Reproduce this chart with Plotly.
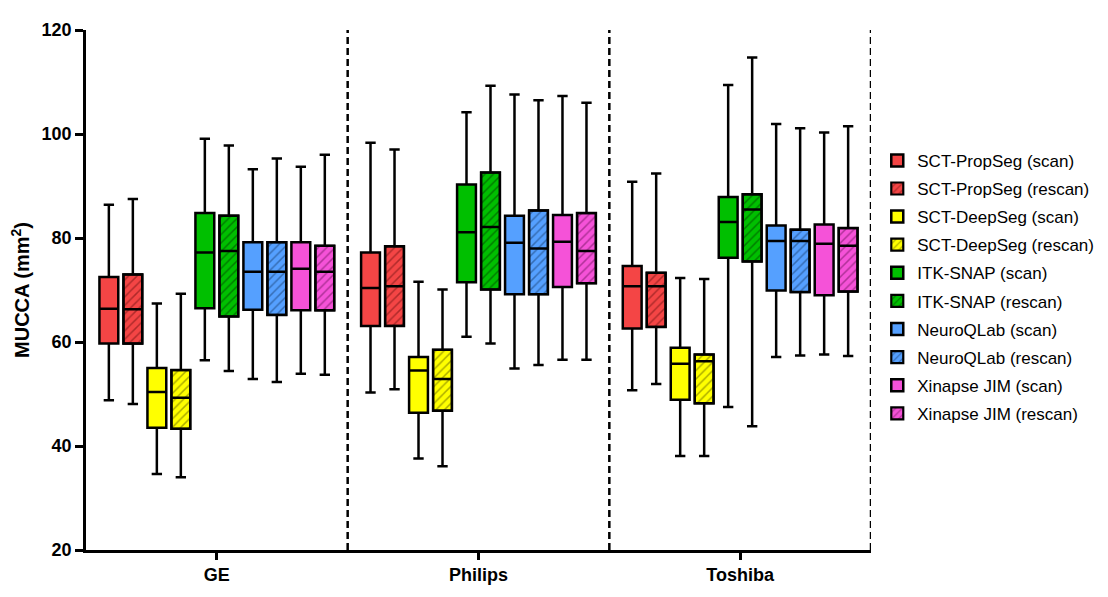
import plotly.graph_objects as go

# scanner groups on the x axis
scanners = ['GE', 'Philips', 'Toshiba']

# series names, in legend order
series = [
    'SCT-PropSeg (scan)', 'SCT-PropSeg (rescan)',
    'SCT-DeepSeg (scan)', 'SCT-DeepSeg (rescan)',
    'ITK-SNAP (scan)', 'ITK-SNAP (rescan)',
    'NeuroQLab (scan)', 'NeuroQLab (rescan)',
    'Xinapse JIM (scan)', 'Xinapse JIM (rescan)',
]

# box statistics per series, one value per scanner (GE, Philips, Toshiba)
mins = [
    [48.8, 50.3, 50.7], [48.1, 50.9, 51.9],
    [34.6, 37.6, 38.1], [34.0, 36.1, 38.1],
    [56.5, 61.0, 47.5], [54.4, 59.7, 43.8],
    [52.9, 54.9, 57.1], [52.3, 55.6, 57.4],
    [53.9, 56.6, 57.6], [53.7, 56.6, 57.3],
]
q1s = [
    [59.7, 63.1, 62.6], [59.7, 63.1, 62.9],
    [43.5, 46.4, 48.9], [43.3, 46.8, 48.2],
    [66.5, 71.5, 76.2], [64.9, 70.1, 75.5],
    [66.2, 69.2, 69.9], [65.2, 69.2, 69.6],
    [66.1, 70.6, 69.0], [66.1, 71.3, 69.7],
]
medians = [
    [66.4, 70.4, 70.7], [66.3, 70.7, 70.7],
    [50.4, 54.5, 55.8], [49.3, 52.9, 56.3],
    [77.2, 81.1, 83.1], [77.5, 82.1, 85.5],
    [73.5, 79.1, 79.4], [73.5, 78.0, 79.4],
    [74.1, 79.3, 78.9], [73.5, 77.5, 78.5],
]
q3s = [
    [72.5, 77.2, 74.6], [73.0, 78.4, 73.3],
    [55.0, 57.1, 58.9], [54.6, 58.5, 57.6],
    [84.8, 90.3, 87.9], [84.3, 92.6, 88.4],
    [79.2, 84.3, 82.4], [79.2, 85.3, 81.6],
    [79.2, 84.4, 82.6], [78.5, 84.8, 81.9],
]
maxs = [
    [86.4, 98.3, 90.8], [87.5, 97.0, 92.4],
    [67.4, 71.6, 72.3], [69.3, 70.1, 72.1],
    [99.1, 104.2, 109.4], [97.8, 109.3, 114.7],
    [93.2, 107.6, 101.9], [95.3, 106.5, 101.1],
    [93.7, 107.3, 100.3], [96.0, 106.0, 101.5],
]

colors = ['#F44545', '#FFFF00', '#00BF00', '#55A0FF', '#F552D8']
hatch_colors = ['#6A1010', '#5A5A00', '#003C00', '#163A6A', '#6A1058']

FONT = 'Liberation Sans, Arial, sans-serif'
step = 0.0917      # distance between neighbouring boxes (x units)
bw = 0.072         # box width (x units)

fig = go.Figure()

for i, name in enumerate(series):
    k = i // 2
    rescan = i % 2 == 1
    off = (i - 4.5) * step
    xs = [j + off for j in range(len(scanners))]
    if rescan:
        # hatched fill drawn as bars underneath the box outline
        fig.add_trace(go.Bar(
            x=xs,
            base=q1s[i],
            y=[b - a for a, b in zip(q1s[i], q3s[i])],
            width=bw,
            name=name,
            legendgroup=name,
            marker=dict(
                color=colors[k],
                line=dict(color='black', width=2.2),
                pattern=dict(shape='/', fgcolor=hatch_colors[k],
                             size=6, solidity=0.25),
            ),
            hoverinfo='skip',
        ))
    fig.add_trace(go.Box(
        x=xs,
        q1=q1s[i],
        median=medians[i],
        q3=q3s[i],
        lowerfence=mins[i],
        upperfence=maxs[i],
        width=bw,
        whiskerwidth=0.55,
        boxpoints=False,
        name=name,
        legendgroup=name,
        showlegend=not rescan,
        fillcolor='rgba(0,0,0,0)' if rescan else colors[k],
        line=dict(color='black', width=2.5),
    ))

# dashed separators between scanners and at the right edge
for j in range(len(scanners)):
    fig.add_shape(type='line', xref='x', yref='paper',
                  x0=j + 0.5, x1=j + 0.5, y0=0, y1=1,
                  line=dict(color='black', width=2.5, dash='7px,4px'))

fig.update_layout(
    width=1108,
    height=597,
    plot_bgcolor='white',
    paper_bgcolor='white',
    margin=dict(l=75, r=245, t=17, b=55),
    barmode='overlay',
    boxmode='overlay',
    font=dict(family=FONT, color='black'),
    legend=dict(
        x=1.008, y=0.783, xanchor='left', yanchor='top',
        font=dict(family=FONT, size=17, color='black'),
        tracegroupgap=3,
        bgcolor='rgba(0,0,0,0)',
    ),
    xaxis=dict(
        range=[-0.5, 2.5],
        tickvals=list(range(len(scanners))),
        ticktext=scanners,
        ticks='outside', ticklen=7, tickwidth=2.5, tickcolor='black',
        showline=True, linecolor='black', linewidth=2.5,
        showgrid=False, zeroline=False,
        tickfont=dict(family=FONT, size=18, weight='bold', color='black'),
    ),
    yaxis=dict(
        range=[20, 120],
        dtick=20,
        ticks='outside', ticklen=8, tickwidth=2.5, tickcolor='black',
        showline=True, linecolor='black', linewidth=2.5,
        showgrid=False, zeroline=False,
        tickfont=dict(family=FONT, size=18, weight='bold', color='black'),
        title=dict(text='MUCCA (mm<sup>2</sup>)',
                   font=dict(family=FONT, size=20, weight='bold', color='black'),
                   standoff=8),
    ),
)

fig.write_html('out.html')
